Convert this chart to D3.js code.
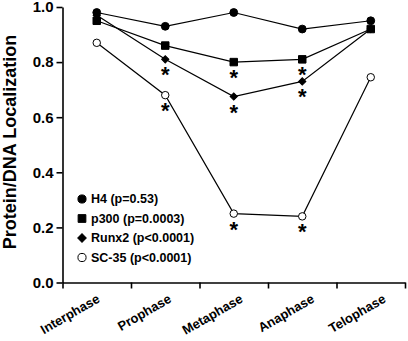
<!DOCTYPE html>
<html>
<head>
<meta charset="utf-8">
<script src="https://cdn.jsdelivr.net/npm/d3@7"></script>
<style>
  body { margin: 0; background: #fff; }
  svg { display: block; font-family: "Liberation Sans", Arial, sans-serif; font-weight: bold; }
</style>
</head>
<body>
<div id="chart"></div>
<script>
// values
const phases = ["Interphase", "Prophase", "Metaphase", "Anaphase", "Telophase"];
const h4 = [0.98, 0.93, 0.98, 0.92, 0.95];
const p300 = [0.95, 0.86, 0.80, 0.81, 0.92];
const runx2 = [0.97, 0.81, 0.675, 0.73, 0.92];
const sc35 = [0.87, 0.68, 0.25, 0.24, 0.745];
// 1 = asterisk under the point
const h4Sig = [0, 0, 0, 0, 0];
const p300Sig = [0, 0, 1, 1, 0];
const runx2Sig = [0, 1, 1, 1, 0];
const sc35Sig = [0, 1, 1, 1, 0];
const legendLabels = ["H4 (p=0.53)", "p300 (p=0.0003)", "Runx2 (p<0.0001)", "SC-35 (p<0.0001)"];
const yTicks = [0, 0.2, 0.4, 0.6, 0.8, 1.0];

let width = 408,
    height = 341,
    margin = ({ top: 7, right: 3, bottom: 58.5, left: 62.5 });

const svg = d3.select("#chart")
  .append("svg")
  .attr("width", width)
  .attr("height", height);

let x = d3.scaleBand()
  .domain(phases)
  .range([margin.left, width - margin.right]);

// boundaries between phases carry the tick marks
let xb = d3.scaleLinear()
  .domain([0, phases.length])
  .range([margin.left, width - margin.right]);

let y = d3.scaleLinear()
  .domain([0, 1])
  .range([height - margin.bottom, margin.top]);

const cx = d => x(d) + x.bandwidth() / 2;

// axes
svg.append("g")
  .attr("transform", `translate(0,${height - margin.bottom})`)
  .call(d3.axisBottom(xb).tickValues(d3.range(phases.length + 1)).tickFormat("").tickSize(6).tickSizeOuter(0))
  .call(g => g.selectAll("line, path").attr("stroke", "#000").attr("stroke-width", 1.6));

svg.append("g")
  .attr("transform", `translate(${margin.left},0)`)
  .call(d3.axisLeft(y).tickValues(yTicks).tickFormat(d3.format(".1f")).tickSize(6).tickPadding(3).tickSizeOuter(0))
  .call(g => g.selectAll("line, path").attr("stroke", "#000").attr("stroke-width", 1.6))
  .call(g => g.selectAll("text")
    .attr("font-size", 15).attr("font-family", null).attr("fill", "#000"));

// rotated category labels (drift a little to the right, as in the original)
svg.append("g")
  .selectAll("text")
  .data(phases)
  .join("text")
  .attr("transform", (d, i) => `translate(${cx(d) + 4 + i * 3},${height - margin.bottom + 19}) rotate(-30)`)
  .attr("text-anchor", "end")
  .attr("font-size", 13)
  .text(d => d);

// y title
svg.append("text")
  .attr("transform", `translate(16,142) rotate(-90)`)
  .attr("text-anchor", "middle")
  .attr("font-size", 18)
  .text("Protein/DNA Localization");

const series = [
  { name: "SC-35", values: sc35, sig: sc35Sig, shape: d3.symbolCircle, size: 44, rot: 0, fill: "#fff" },
  { name: "Runx2", values: runx2, sig: runx2Sig, shape: d3.symbolSquare, size: 26, rot: 45, fill: "#000" },
  { name: "p300", values: p300, sig: p300Sig, shape: d3.symbolSquare, size: 56, rot: 0, fill: "#000" },
  { name: "H4", values: h4, sig: h4Sig, shape: d3.symbolCircle, size: 48, rot: 0, fill: "#000" }
];

const line = d3.line()
  .x((d, i) => cx(phases[i]))
  .y(d => y(d));

series.forEach(s => {
  const g = svg.append("g");
  g.append("path")
    .attr("d", line(s.values))
    .attr("fill", "none")
    .attr("stroke", "#000")
    .attr("stroke-width", 1.2);

  g.selectAll("path.pt")
    .data(s.values)
    .join("path")
    .attr("class", "pt")
    .attr("d", d3.symbol(s.shape, s.size))
    .attr("transform", (d, i) => `translate(${cx(phases[i])},${y(d)}) rotate(${s.rot})`)
    .attr("fill", s.fill)
    .attr("stroke", "#000")
    .attr("stroke-width", 1);

  g.selectAll("text.star")
    .data(s.values.map((v, i) => ({ v, i })).filter(d => s.sig[d.i]))
    .join("text")
    .attr("class", "star")
    .attr("x", d => cx(phases[d.i]))
    .attr("y", d => y(d.v) + 23)
    .attr("text-anchor", "middle")
    .attr("font-size", 22)
    .text("*");
});

// legend (order: H4, p300, Runx2, SC-35)
const legendSeries = series.slice().reverse();
const legend = svg.append("g")
  .selectAll("g")
  .data(legendSeries)
  .join("g")
  .attr("transform", (d, i) => `translate(82,${199 + i * 19.5})`);

legend.append("path")
  .attr("d", d => d3.symbol(d.shape, d.shape === d3.symbolCircle ? 52 : (d.rot ? 36 : 60))())
  .attr("transform", d => `rotate(${d.rot})`)
  .attr("fill", d => d.fill)
  .attr("stroke", "#000")
  .attr("stroke-width", 1);

legend.append("text")
  .attr("x", 9)
  .attr("y", 4.3)
  .attr("font-size", 12.5)
  .text((d, i) => legendLabels[i]);
</script>
</body>
</html>
